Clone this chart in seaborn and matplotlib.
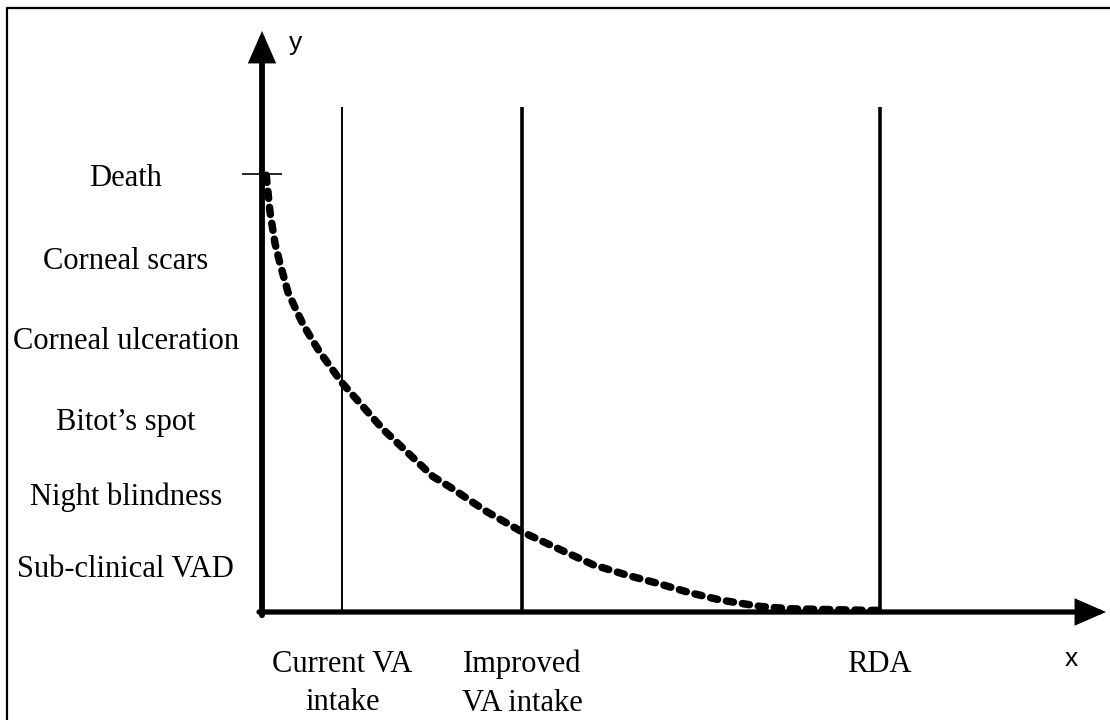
import matplotlib
matplotlib.use("Agg")
import matplotlib.pyplot as plt
from matplotlib.lines import Line2D
import seaborn as sns

# severity levels on y, intake markers on x (arbitrary units)
levels = ["Sub-clinical VAD", "Night blindness", "Bitot\u2019s spot",
          "Corneal ulceration", "Corneal scars", "Death"]
level_pos = [0.58, 1.48, 2.41, 3.42, 4.42, 5.45]
death_mark = 5.46

intake_labels = ["Current VA\nintake", "Improved\nVA intake", "RDA"]
intake_pos = [9.5, 30.8, 73.2]
intake_top = 6.3

curve_x = [0.5, 0.95, 1.54, 2.13, 3.08, 3.91, 4.86, 5.92, 6.87, 9.48, 14.34,
           20.26, 22.27, 26.66, 30.81, 35.31, 39.22, 43.25, 46.8, 50.71,
           54.27, 59.0, 62.56, 67.3, 72.0, 73.2]
curve_y = [5.45, 4.99, 4.6, 4.35, 3.99, 3.8, 3.59, 3.4, 3.24, 2.86, 2.28,
           1.69, 1.56, 1.25, 1.0, 0.78, 0.59, 0.46, 0.36, 0.24,
           0.15, 0.07, 0.04, 0.03, 0.02, 0.02]

sns.set_style("white")
plt.rcParams["font.family"] = ["Liberation Serif", "DejaVu Serif"]
plt.rcParams["text.color"] = "black"
plt.rcParams["xtick.color"] = "black"
plt.rcParams["ytick.color"] = "black"

fig = plt.figure(figsize=(11.1, 7.2), dpi=100)
ax = fig.add_axes([262 / 1110, 108 / 720, 844 / 1110, 585 / 720])
ax.set_xlim(0, 100)
ax.set_ylim(0, 7.3)
sns.despine(ax=ax, left=True, bottom=True)

# intake reference lines
line_widths = [1.4, 2.6, 2.6]
ax.vlines(intake_pos, -0.04, intake_top, colors="black", linewidths=line_widths)

# axes with arrow heads
arrow = dict(arrowstyle="-|>,head_length=1.6,head_width=0.7", color="black",
             lw=4.2, shrinkA=0, shrinkB=0, mutation_scale=10, joinstyle="miter")
ax.annotate("", xy=(0, 7.25), xytext=(0, -0.04), arrowprops=arrow, annotation_clip=False)
ax.annotate("", xy=(100, 0), xytext=(-0.35, 0), arrowprops=dict(arrow, lw=3.8),
            annotation_clip=False)

# deficiency curve
sns.lineplot(x=curve_x, y=curve_y, ax=ax, color="black", lw=5.4, sort=False,
             clip_on=False)
curve = ax.lines[-1]
curve.set_linestyle((0, (0.95, 1.2)))
curve.set_dash_capstyle("round")

# labels via ticks
ax.set_yticks(level_pos, levels)
ax.tick_params(axis="y", which="major", length=0, pad=98, labelsize=22)
for t in ax.get_yticklabels():
    t.set_horizontalalignment("center")
ax.set_yticks([death_mark], minor=True)
ax.tick_params(axis="y", which="minor", length=29, width=1.2, direction="inout",
               left=True, labelleft=False)

ax.set_xticks(intake_pos, intake_labels)
ax.tick_params(axis="x", which="major", length=0, pad=27, labelsize=22)
for t in ax.get_xticklabels():
    t.set_linespacing(1.45)

ax.text(4.0, 7.01, "y", fontsize=19, family="Liberation Sans", ha="center", va="baseline")
ax.text(95.9, -0.675, "x", fontsize=19, family="Liberation Sans", ha="center", va="baseline")

# frame lines (left and top)
fig.add_artist(Line2D([7 / 1110, 7 / 1110, 1], [0, 1 - 8 / 720, 1 - 8 / 720],
                      transform=fig.transFigure, color="black", lw=1.6))

fig.savefig("out.png", dpi=100)
